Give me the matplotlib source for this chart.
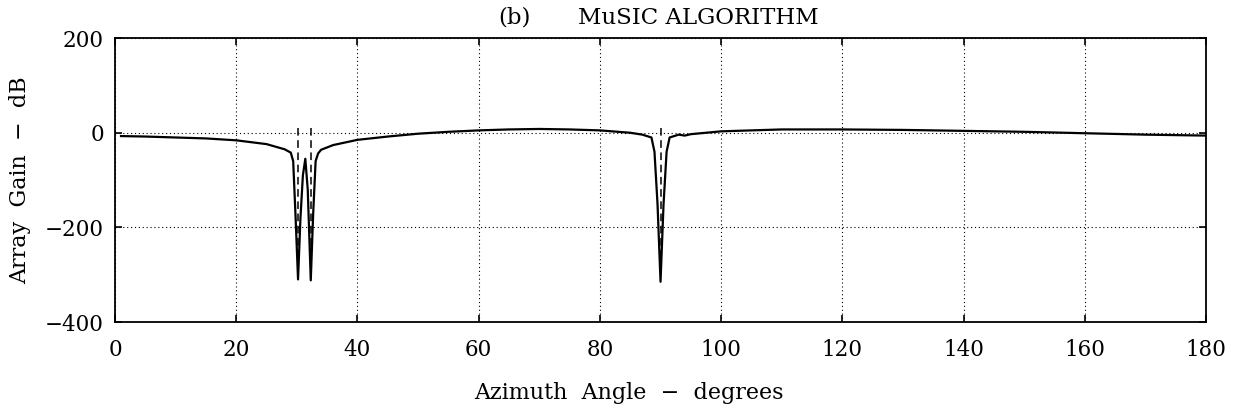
import matplotlib
matplotlib.use("Agg")
import matplotlib.pyplot as plt

# Data
angles = [1, 5, 10, 15, 20, 25, 28, 29, 29.4, 29.8, 30.2, 30.6, 31.0, 31.4, 31.8, 32.3, 32.7, 33.1, 33.5,
          34, 36, 40, 45, 50, 55, 60, 65, 70, 75, 80, 85, 87, 88.5, 89.0, 89.5, 90.0, 90.5, 91.0, 91.5,
          93, 94, 95, 100, 110, 120, 130, 140, 150, 160, 170, 180]
gain_db = [-7, -8, -10, -12, -16, -24, -35, -42, -60, -180, -310, -180, -90, -55, -120, -312, -170, -60, -44,
           -36, -26, -15, -8, -2, 2, 5, 7, 8, 7, 5, 0, -4, -10, -40, -150, -315, -150, -40, -10,
           -4, -6, -3, 3, 7, 7, 6, 4, 2, -1, -4, -6]
source_angles = [30.2, 32.3, 90.0]
marker_top = 10
marker_bottom = -295

xticks = [0, 20, 40, 60, 80, 100, 120, 140, 160, 180]
yticks = [-400, -200, 0, 200]

title_tag = "(b)"
title = "MuSIC ALGORITHM"
xlabel = "Azimuth  Angle  \u2212  degrees"
ylabel = "Array  Gain  \u2212  dB"

plt.rcParams['font.family'] = ['DejaVu Serif']
fig = plt.figure(figsize=(12.47, 4.19), dpi=100)
ax = fig.add_axes([0.0922, 0.2315, 0.8750, 0.6775])

for a in source_angles:
    ax.plot([a, a], [marker_top, marker_bottom], color='black', lw=1.1,
            linestyle=(0, (5, 3)), zorder=2)
ax.plot(angles, gain_db, color='black', lw=1.6, zorder=3)

ax.set_xlim(0, 180)
ax.set_ylim(-400, 200)
ax.set_xticks(xticks)
ax.set_yticks(yticks)
ax.set_xticklabels([str(v) for v in xticks])
ax.set_yticklabels([str(v).replace('-', '\u2212') for v in yticks])
ax.tick_params(direction='in', length=5, width=1.2, top=True, right=True,
               labelsize=15.5, colors='black')
ax.tick_params(axis='x', pad=12)
ax.tick_params(axis='y', pad=8)
ax.grid(True, color='black', lw=0.8, linestyle=(0, (1, 2.5)))
for s in ax.spines.values():
    s.set_linewidth(1.3)
    s.set_color('black')

fig.text(498 / 1247, 0.958, title_tag, ha='left', va='center', fontsize=16.5)
fig.text(578 / 1247, 0.958, title, ha='left', va='center', fontsize=16.5)
fig.text(0.504, 0.062, xlabel, ha='center', va='center', fontsize=16)
fig.text(0.016, 0.570, ylabel, ha='center', va='center', rotation=90, fontsize=16)

fig.savefig("out.png", dpi=100)
